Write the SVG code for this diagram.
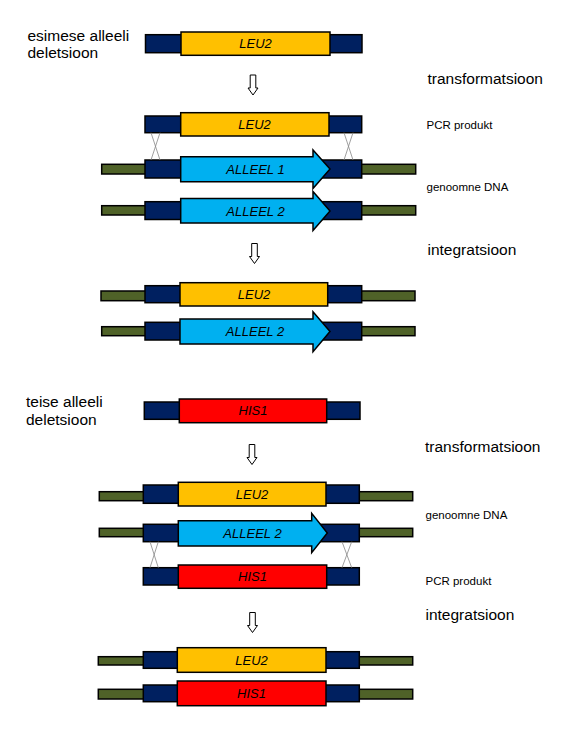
<svg xmlns="http://www.w3.org/2000/svg" width="571" height="730" viewBox="0 0 571 730">
<style>
.g{fill:#4F6228;stroke:#000;stroke-width:1.5}
.n{fill:#002060;stroke:#000;stroke-width:1.5}
.y{fill:#FFC000;stroke:#000;stroke-width:1.5}
.b{fill:#00B0F0;stroke:#000;stroke-width:1.5}
.r{fill:#FF0000;stroke:#000;stroke-width:1.5}
.t{font-family:"Liberation Sans",Arial,sans-serif;font-style:italic;font-size:13px;fill:#000;text-anchor:middle}
.L{font-family:"Liberation Sans",Arial,sans-serif;font-size:15.5px;fill:#000}
.s{font-family:"Liberation Sans",Arial,sans-serif;font-size:11.5px;fill:#000}
.x{stroke:#888;stroke-width:0.8;fill:none}
.da{fill:#fff;stroke:#000;stroke-width:1}
</style>
<defs>
<path id="dn" class="da" d="M-2.8,0 H2.8 V13 H5 L0,20 L-5,13 H-2.8 Z"/>
</defs>
<rect width="571" height="730" fill="#fff"/>

<g id="labels">
<text class="L" x="27.5" y="41">esimese alleeli</text>
<text class="L" x="27.5" y="57.5">deletsioon</text>
<text class="L" x="427.5" y="84">transformatsioon</text>
<text class="s" x="426.5" y="128.5">PCR produkt</text>
<text class="s" x="426.5" y="190.5">genoomne DNA</text>
<text class="L" x="427.5" y="255">integratsioon</text>
<text class="L" x="26" y="407">teise alleeli</text>
<text class="L" x="26" y="424.5">deletsioon</text>
<text class="L" x="425" y="451.5">transformatsioon</text>
<text class="s" x="425.5" y="518.5">genoomne DNA</text>
<text class="s" x="425.5" y="585">PCR produkt</text>
<text class="L" x="425.5" y="620">integratsioon</text>
</g>

<g id="a1">
<rect class="n" x="145.5" y="34.7" width="216.5" height="18"/>
<rect class="y" x="181" y="32" width="149" height="23.3"/>
<text class="t" x="255.5" y="48.3">LEU2</text>
</g>

<g id="a2">
<rect class="n" x="145" y="116" width="216.7" height="16.7"/>
<rect class="y" x="180.7" y="112.7" width="148.3" height="23.3"/>
<text class="t" x="254.5" y="129">LEU2</text>
</g>

<g id="a3">
<rect class="g" x="101.7" y="164.3" width="314" height="9.7"/>
<rect class="n" x="145" y="160" width="216.7" height="18"/>
<path class="b" d="M180.7,156.7 H313 V150 L330,169 L313,188.5 V181.7 H180.7 Z"/>
<text class="t" x="255.5" y="174">ALLEEL 1</text>
</g>

<g id="a4">
<rect class="g" x="101.7" y="205.7" width="314" height="9.3"/>
<rect class="n" x="145" y="201.7" width="216.7" height="17.8"/>
<path class="b" d="M180.7,198.5 H313 V191.5 L330,211 L313,230.5 V223 H180.7 Z"/>
<text class="t" x="255.5" y="215.5">ALLEEL 2</text>
</g>

<g id="a5">
<rect class="g" x="101" y="291" width="314" height="9.7"/>
<rect class="n" x="145" y="285.7" width="216.7" height="17"/>
<rect class="y" x="180" y="282.7" width="147.7" height="23.3"/>
<text class="t" x="254" y="299">LEU2</text>
</g>

<g id="a6">
<rect class="g" x="101.7" y="326.7" width="313.3" height="9"/>
<rect class="n" x="145" y="322.3" width="216.7" height="17.7"/>
<path class="b" d="M180,319 H313 V311.7 L330,331.5 L313,351.7 V344 H180 Z"/>
<text class="t" x="255" y="336">ALLEEL 2</text>
</g>

<g id="b1">
<rect class="n" x="144.3" y="402" width="215.7" height="17.3"/>
<rect class="r" x="179.3" y="399" width="147.4" height="23.7"/>
<text class="t" x="253" y="415.3">HIS1</text>
</g>

<g id="b2">
<rect class="g" x="99.3" y="491.7" width="313.4" height="9"/>
<rect class="n" x="143.3" y="485" width="216" height="18.3"/>
<rect class="y" x="178.3" y="482.3" width="147.7" height="23.7"/>
<text class="t" x="252" y="498.7">LEU2</text>
</g>

<g id="b3">
<rect class="g" x="99.3" y="528.3" width="313.4" height="8.4"/>
<rect class="n" x="143.3" y="524.3" width="216" height="17.4"/>
<path class="b" d="M178.3,520.7 H311.7 V513.3 L327.3,533 L311.7,552.7 V546 H178.3 Z"/>
<text class="t" x="252.5" y="537.5">ALLEEL 2</text>
</g>

<g id="b4">
<rect class="n" x="143.3" y="567.7" width="216" height="17.3"/>
<rect class="r" x="178.3" y="565" width="148.4" height="23.3"/>
<text class="t" x="252.5" y="581.3">HIS1</text>
</g>

<g id="b5">
<rect class="g" x="98.3" y="656.7" width="314.4" height="8.3"/>
<rect class="n" x="143.3" y="651.7" width="216" height="16.6"/>
<rect class="y" x="177.3" y="647.7" width="148.7" height="24.6"/>
<text class="t" x="251.5" y="664.5">LEU2</text>
</g>

<g id="b6">
<rect class="g" x="98.3" y="689.3" width="314.4" height="9.7"/>
<rect class="n" x="143.3" y="685" width="216" height="16.7"/>
<rect class="r" x="177.3" y="681" width="148.7" height="24.7"/>
<text class="t" x="251.5" y="698">HIS1</text>
</g>

<g id="connectors">
<use href="#dn" x="253" y="75"/>
<use href="#dn" x="254.5" y="243.5"/>
<use href="#dn" x="252" y="444.5"/>
<use href="#dn" x="252.5" y="612.5"/>
<path class="x" d="M151,132.7 L160,160 M160,132.7 L151,160"/>
<path class="x" d="M344,132.7 L353,160 M353,132.7 L344,160"/>
<path class="x" d="M150,541.7 L158.3,567.7 M158.3,541.7 L150,567.7"/>
<path class="x" d="M342,541.7 L351.7,567.7 M351.7,541.7 L342,567.7"/>
</g>
</svg>
